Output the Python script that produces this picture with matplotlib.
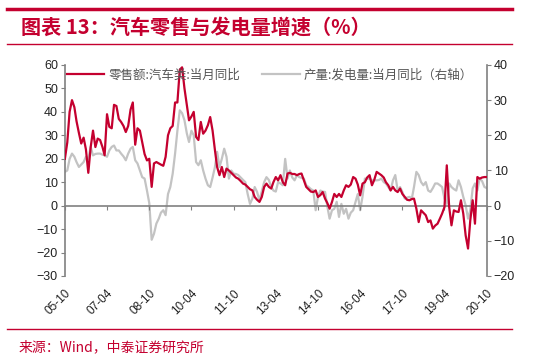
import numpy as np
import pandas as pd
import matplotlib
matplotlib.use('Agg')
import matplotlib.pyplot as plt
from matplotlib.lines import Line2D

plt.rcParams['font.family'] = ['Liberation Sans', 'Noto Sans CJK SC', 'DejaVu Sans']

# 零售额:汽车类:当月同比 (左轴, %), 2005-10 ~ 2020-10
retail = [20, 27, 40, 45, 42, 36, 31, 26.5, 29, 24, 14, 25, 32, 25, 28.6, 28, 25, 21.5, 39, 33.6,
          33, 43, 42.5, 37, 35.7, 34, 31.4, 34, 41, 44, 26, 33, 32, 27, 22, 19.3, 20, 8, 18, 18.6,
          18, 17.5, 17, 20.8, 30, 33, 34, 44, 44, 58, 59, 50, 43, 36.4, 38, 40, 29.3, 28, 35.7, 30.7,
          32, 34.3, 37.8, 32, 23.6, 16.5, 13, 16.5, 12.2, 15.8, 15, 14, 13, 12, 11.5, 10.5, 9.4, 9, 8, 7,
          6.5, 3.7, 2.5, 1.6, 3.7, 8, 9.4, 8, 7.3, 10, 12.2, 10.8, 13, 10, 8.7, 13.7, 14, 13.5, 13.5, 13,
          13.5, 13.7, 10.8, 8, 7, 6, 5.8, 6.5, 3.7, 4.5, 5.8, 3, 1, -1.3, 1.6, 5, 3.7, 5, 3.7, 6.5,
          8.7, 8, 9, 12.2, 11.5, 9, 4.4, 9.4, 10, 12, 13, 8.7, 11, 14.4, 13.7, 13, 12, 10, 8.7, 6.5,
          8, 6.5, 5.8, 7.3, 5, 3.7, 2.5, 2.3, 2.8, 3, -1.3, -7, -2, -3, -4.1, -7, -6.3, -9.8, -8.5, -7.7,
          -5.5, -3.4, -0.6, 17.2, -0.6, -8.4, -2, -2.5, -2.7, 2.3, -3.4, -12.7, -18.3, -6.3, 2.3, -7.7, 12.2, 11.5, 12, 12.2,
          12.2]

# 产量:发电量:当月同比 (右轴, %)
power = [9.6, 10, 13.3, 14.8, 13.9, 12.4, 11, 11.7, 12.4, 13.9, 13.3, 16.7, 14.3, 14.7, 14.8, 14.8, 14.5, 14.3, 13.9, 15.7,
         16.7, 17.1, 15.7, 15.7, 14.8, 14, 12.9, 14.8, 16.2, 16.7, 12.9, 12, 10, 8.1, 7.7, 4.3, 0.7, -9.7, -8, -5.1,
         -3.7, -2, -1.3, -2.7, 3.3, 5.3, 9.1, 14.8, 21.3, 27.1, 26.3, 24.3, 20.5, 18.1, 21.3, 20, 12.4, 11.5, 12.9, 10,
         7.7, 5.8, 5.3, 8, 11, 15.3, 11, 13.3, 16.2, 13.9, 7.7, 10, 9.1, 9, 8.7, 8, 7.3, 6.7, 3.3, 0.5,
         2, 5.3, 3.9, 1.5, 4, 6.7, 8.1, 7.3, 5.3, 4.3, 4, 6.7, 6.3, 5.8, 13.3, 7.7, 10, 8, 7.2, 8.7,
         8.1, 7.9, 7.7, 5.8, 5.3, 4.7, 4.3, -1.3, 2.5, 4.3, 4, 3.9, -0.4, -3.7, -1.3, -0.9, 1.1, -3.2, 0.5, -2.3,
         -0.9, -3.7, -2, -1.3, 1.1, 3.3, -1.3, 2.5, 7.7, 7.7, 7.7, 7.2, 7.2, 7.2, 7.3, 7.7, 6.7, 6.3, 5.3, 4.3,
         7.2, 8.7, 4.3, 5.3, 3.9, 2, 2.3, 2.5, 2, 5.3, 9.6, 8.7, 6.7, 5.8, 6.7, 4.3, 3.9, 5, 6.3, 6.3,
         5.8, 5.3, 2, 0.5, 6.3, 5.3, 4.7, 4.3, 7.2, 5.3, 2.5, 0.1, -3.7, -1.3, 4.9, 6.3, 4.3, 7.7, 7, 5.3,
         5]

months = pd.date_range('2005-10-01', periods=len(retail), freq='MS')
tick_dates = months[::18]
tick_labels = [d.strftime('%y-%m') for d in tick_dates]

red = '#C4002F'
grey = '#C3C3C3'
axis_grey = '#808080'

fig = plt.figure(figsize=(5.5, 3.61), dpi=100)

# 标题和分隔线
fig.add_artist(Line2D([0.013, 0.931], [0.975, 0.975], color=red, lw=2.5))
fig.add_artist(Line2D([0.013, 0.931], [0.878, 0.878], color=red, lw=1))
fig.add_artist(Line2D([0.013, 0.931], [0.089, 0.089], color=red, lw=1))
fig.text(0.038, 0.925, '图表 13：汽车零售与发电量增速（%）', color=red, fontsize=14.5,
         fontweight='bold', fontstyle='italic', family=['Noto Sans CJK SC'], va='center')
fig.text(0.033, 0.038, '来源：Wind，中泰证券研究所', color=red, fontsize=10,
         family=['Noto Sans CJK SC'], va='center')

ax = fig.add_axes([0.118, 0.2355, 0.767, 0.5845])
ax2 = ax.twinx()

l1, = ax.plot(months, retail, color=red, lw=1.6, zorder=3)
l2, = ax2.plot(months, power, color=grey, lw=1.6, zorder=2)
ax.set_zorder(ax2.get_zorder() + 1)
ax.patch.set_visible(False)

ax.set_ylim(-30, 60)
ax2.set_ylim(-20, 40)
ax.set_yticks(range(-30, 61, 10))
ax2.set_yticks(range(-20, 41, 10))
ax.set_xlim(months[0], months[-1])

ax.set_xticks(tick_dates)
ax.set_xticklabels(tick_labels)

for a in (ax, ax2):
    a.spines['top'].set_visible(False)
    for s in ('left', 'right', 'bottom'):
        a.spines[s].set_color(axis_grey)
        a.spines[s].set_linewidth(1.2)
ax.spines['right'].set_visible(False)
ax2.spines['left'].set_visible(False)
ax2.spines['bottom'].set_visible(False)
ax.spines['bottom'].set_position(('data', 0))

ax.tick_params(axis='y', length=3, color=axis_grey, labelsize=9, labelcolor='#222222', pad=2)
ax2.tick_params(axis='y', length=3, color=axis_grey, labelsize=9, labelcolor='#222222', pad=2)
ax.tick_params(axis='x', length=3, color=axis_grey, labelsize=8.5, labelcolor='#222222', pad=56,
               labelrotation=45)
for lab in ax.get_xticklabels():
    lab.set_ha('right')
    lab.set_rotation_mode('anchor')

ax.legend([l1, l2], ['零售额:汽车类:当月同比', '产量:发电量:当月同比（右轴）'],
          loc='upper left', bbox_to_anchor=(-0.022, 1.035), ncol=2, frameon=False,
          prop={'family': ['Noto Sans CJK SC'], 'size': 9}, labelcolor='#555555',
          handlelength=3.0, handletextpad=0.3, columnspacing=1.8)

fig.savefig('out.png', dpi=100)
